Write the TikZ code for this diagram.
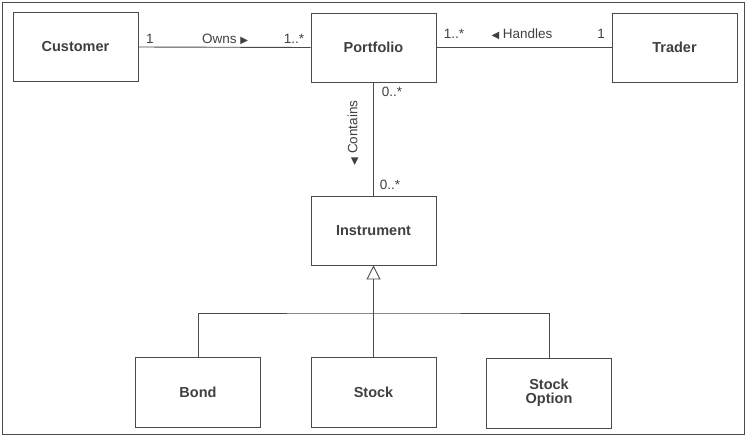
\documentclass[tikz,border=0pt]{standalone}
\usepackage{fontspec}
\setmainfont{Liberation Sans}
\newfontfamily\symfont{DejaVu Sans}
\usetikzlibrary{arrows.meta}
\definecolor{ink}{HTML}{4A4A4A}
\definecolor{txt}{HTML}{404040}
\tikzset{
  cls/.style={draw=ink, line width=0.9pt, minimum width=125pt, minimum height=69pt,
    inner sep=0pt, font=\fontsize{14.5}{16}\selectfont\bfseries, text=txt, align=center},
  assoc/.style={draw=ink, line width=0.9pt},
  lbl/.style={font=\fontsize{13.5}{15}\selectfont, text=txt, inner sep=0pt},
  gen/.style={draw=ink, line width=0.9pt, -{Triangle[open, length=14pt, width=14pt, line width=0.9pt]}}
}
\begin{document}
\begin{tikzpicture}[x=1pt, y=-1pt]
\useasboundingbox (0,0) rectangle (747,437);
\draw[draw=ink, line width=1.6pt] (2.5,2.5) rectangle (744.5,434.5);
\node[cls] (cust) at (75.5,47) {Customer};
\node[cls] (port) at (373.5,47.5) {Portfolio};
\node[cls] (trad) at (674.5,47.5) {Trader};
\node[cls] (inst) at (373.5,230.5) {Instrument};
\node[cls, minimum height=70pt] (bond) at (198,392) {Bond};
\node[cls, minimum height=70pt] (stock) at (373.5,392) {Stock};
\node[cls, minimum height=70pt] (opt) at (549,393) {Stock\\[-2pt]Option};
% associations
\draw[assoc] (cust.east) -- (port.west);
\draw[assoc] (port.east) -- (trad.west);
\draw[assoc] (port.south) -- (inst.north);
% labels
\node[lbl] (m1) at (150,39) {1};
\node[lbl] (owns) at (225,39) {Owns {\symfont\fontsize{10}{11}\selectfont ▶}};
\node[lbl] (m2) at (294,39) {1..*};
\node[lbl] (m3) at (454,34) {1..*};
\node[lbl] (hand) at (522,34) {{\symfont\fontsize{10}{11}\selectfont ◀} Handles};
\node[lbl] (m4) at (601,34) {1};
\node[lbl] (m5) at (392,92) {0..*};
\node[lbl] (m6) at (390,185) {0..*};
\node[lbl, rotate=90] (cont) at (353,133) {{\symfont\fontsize{10}{11}\selectfont ◀} Contains};
% generalization
\coordinate (j) at (373.5,313);
\draw[gen] (j) -- (inst.south);
\draw[assoc] (bond.north) |- (j) -| (opt.north);
\draw[assoc] (stock.north) -- (j);
\end{tikzpicture}
\end{document}
